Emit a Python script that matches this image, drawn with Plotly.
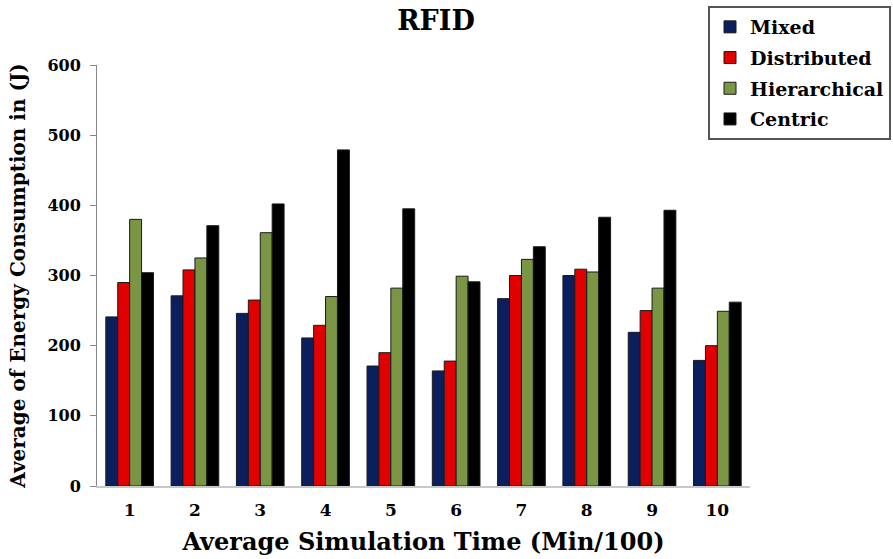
import plotly.graph_objects as go

categories = ["1", "2", "3", "4", "5", "6", "7", "8", "9", "10"]
mixed = [241, 271, 246, 211, 171, 164, 267, 300, 219, 179]
distributed = [290, 308, 265, 229, 190, 178, 300, 309, 250, 200]
hierarchical = [380, 325, 361, 270, 282, 299, 323, 305, 282, 249]
centric = [304, 371, 402, 479, 395, 291, 341, 383, 393, 262]

series = [
    ("Mixed", mixed, "#0b1f5e"),
    ("Distributed", distributed, "#e00000"),
    ("Hierarchical", hierarchical, "#7a9544"),
    ("Centric", centric, "#000000"),
]

FONT = "DejaVu Serif"

fig = go.Figure()
for name, vals, col in series:
    fig.add_trace(go.Bar(
        x=categories, y=vals, name=name, legendgroup=name,
        marker=dict(color=col, line=dict(color="#1a1a1a", width=1)),
    ))

fig.update_layout(
    width=893, height=559,
    margin=dict(l=97, r=143, t=65, b=73, autoexpand=False),
    paper_bgcolor="white", plot_bgcolor="white",
    barmode="group", bargap=0.27, bargroupgap=0,
    title=dict(text="<b>RFID</b>", x=436 / 893, xanchor="center", y=0.963, yanchor="middle",
               font=dict(family=FONT, size=27, color="black")),
    font=dict(family=FONT, color="black"),
    legend=dict(
        xref="container", yref="container",
        x=708 / 893, xanchor="left", y=1 - 6 / 559, yanchor="top",
        bordercolor="#555555", borderwidth=2, bgcolor="white",
        font=dict(family=FONT, size=19, color="black", weight="bold"),
        itemwidth=30, tracegroupgap=3,
    ),
    xaxis=dict(
        title=dict(text="<b>Average Simulation Time (Min/100)</b>",
                   font=dict(family=FONT, size=24, color="black"), standoff=14),
        tickfont=dict(family=FONT, size=17, color="black", weight="bold"),
        showline=True, linecolor="#c8c8c8", linewidth=2,
        ticks="outside", ticklen=8, tickcolor="rgba(0,0,0,0)",
        showgrid=False, automargin=False,
    ),
    yaxis=dict(
        title=dict(text="<b>Average of Energy Consumption in (J)</b>",
                   font=dict(family=FONT, size=20, color="black"), standoff=16),
        range=[0, 600], dtick=100,
        tickfont=dict(family=FONT, size=16, color="black", weight="bold"),
        ticklabelstandoff=6,
        showline=True, linecolor="#888888", linewidth=1,
        ticks="outside", ticklen=6, tickcolor="#888888",
        showgrid=False, zeroline=False, automargin=False,
    ),
)

fig.write_html("out.html")
